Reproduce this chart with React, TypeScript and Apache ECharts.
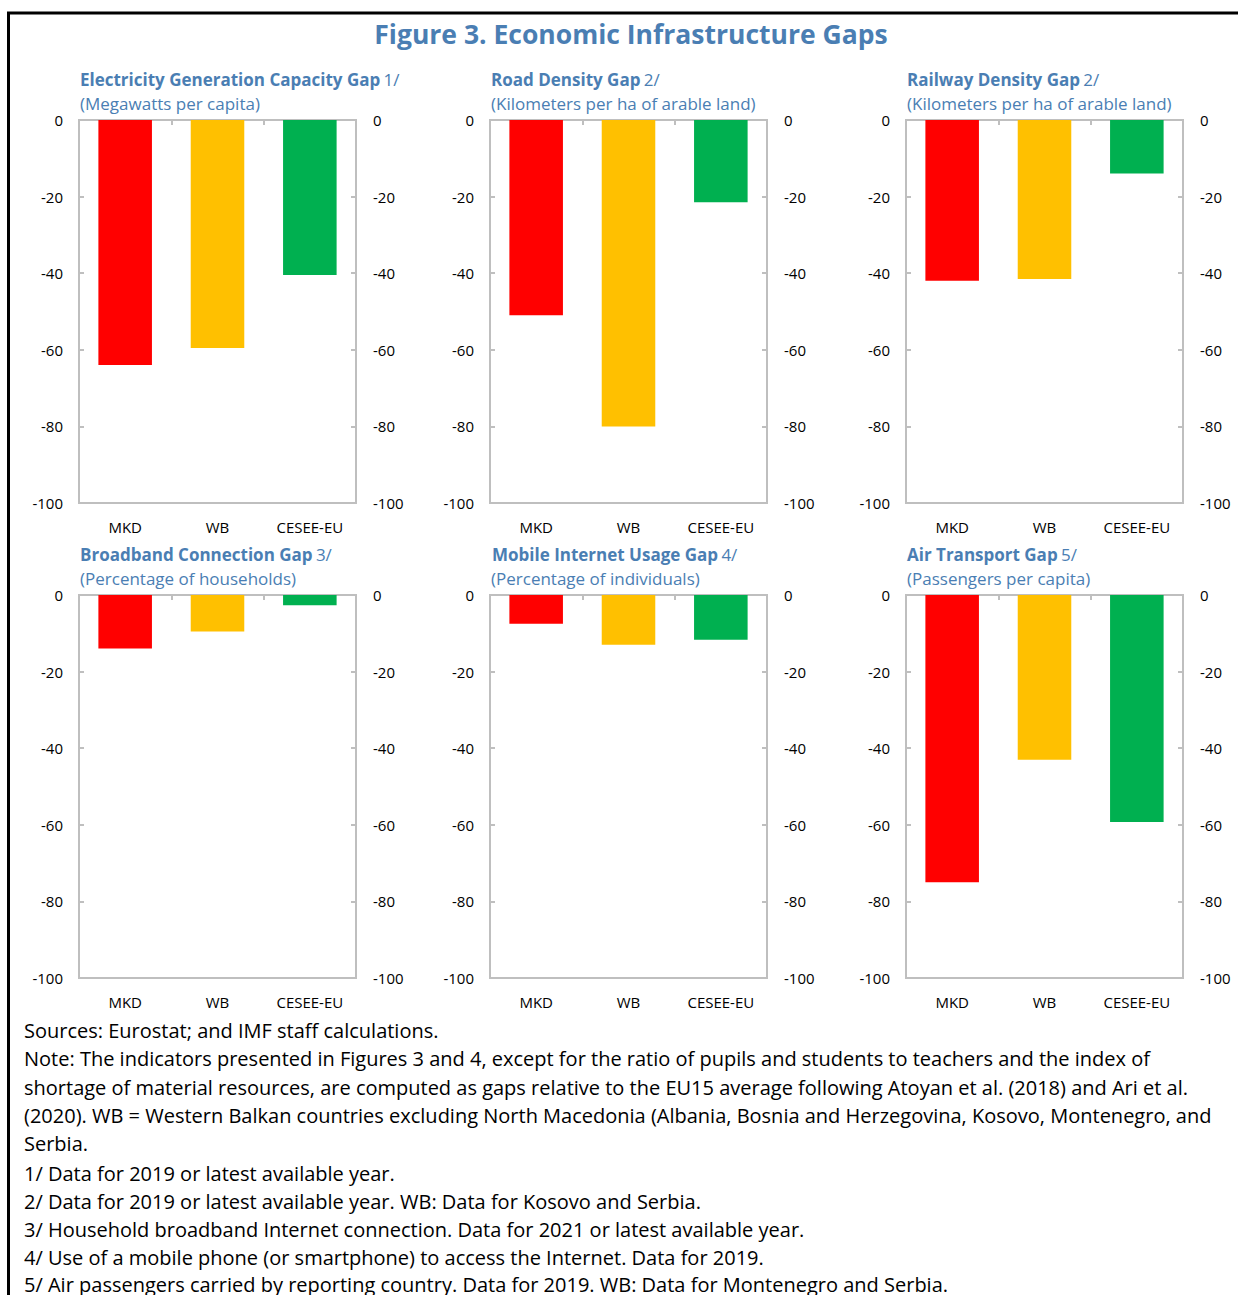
import React, { useEffect, useRef } from "react";
import * as echarts from "echarts";

const categories = ["MKD", "WB", "CESEE-EU"];
const electricity = [-64, -59.5, -40.5];
const road = [-51, -80, -21.5];
const railway = [-42, -41.5, -14];
const broadband = [-14, -9.5, -2.7];
const mobile = [-7.5, -13, -11.7];
const air = [-75, -43, -59.3];
const barColors = ["#ff0000", "#ffc000", "#00b050"];

const panelTitles = [
  "Electricity Generation Capacity Gap",
  "Road Density Gap",
  "Railway Density Gap",
  "Broadband Connection Gap",
  "Mobile Internet Usage Gap",
  "Air Transport Gap",
];
const panelNotes = ["1/", "2/", "2/", "3/", "4/", "5/"];
const panelUnits = [
  "(Megawatts per capita)",
  "(Kilometers per ha of arable land)",
  "(Kilometers per ha of arable land)",
  "(Percentage of households)",
  "(Percentage of individuals)",
  "(Passengers per capita)",
];
const panelData = [electricity, road, railway, broadband, mobile, air];

const mainTitle = "Figure 3. Economic Infrastructure Gaps";
const footnotes = [
  "Sources: Eurostat; and IMF staff calculations.",
  "Note: The indicators presented in Figures 3 and 4, except for the ratio of pupils and students to teachers and the index of",
  "shortage of material resources, are computed as gaps relative to the EU15 average following Atoyan et al. (2018) and Ari et al.",
  "(2020). WB = Western Balkan countries excluding North Macedonia (Albania, Bosnia and Herzegovina, Kosovo, Montenegro, and",
  "Serbia.",
  "1/ Data for 2019 or latest available year.",
  "2/ Data for 2019 or latest available year. WB: Data for Kosovo and Serbia.",
  "3/ Household broadband Internet connection. Data for 2021 or latest available year.",
  "4/ Use of a mobile phone (or smartphone) to access the Internet. Data for 2019.",
  "5/ Air passengers carried by reporting country. Data for 2019. WB: Data for Montenegro and Serbia.",
];

const FONT = "Open Sans";
const BLUE = "#4a7eb3";
const GREY = "#bfbfbf";

export default function App() {
  const ref = useRef<HTMLDivElement>(null);
  useEffect(() => {
    if (!ref.current) return;
    const chart = echarts.init(ref.current, null, { renderer: "svg" });
    const lefts = [79, 490, 906];
    const tops = [120, 595];
    const W = 277;
    const H = 383;
    const grids: any[] = [];
    const xAxes: any[] = [];
    const yAxes: any[] = [];
    const series: any[] = [];
    const graphics: any[] = [];
    for (let i = 0; i < 6; i++) {
      const col = i % 3;
      const row = Math.floor(i / 3);
      grids.push({
        left: lefts[col],
        top: tops[row],
        width: W,
        height: H,
        show: true,
        borderColor: GREY,
        borderWidth: 2,
        backgroundColor: "transparent",
      });
      xAxes.push({
        type: "category",
        gridIndex: i,
        data: categories,
        position: "top",
        axisLine: { show: false },
        axisTick: { show: true, inside: true, length: 5, lineStyle: { color: GREY, width: 2 } },
        axisLabel: { show: false },
      });
      xAxes.push({
        type: "category",
        gridIndex: i,
        data: categories,
        position: "bottom",
        axisLine: { show: false },
        axisTick: { show: false },
        axisLabel: { show: true, margin: 16, color: "#000", fontFamily: FONT, fontSize: 15 },
      });
      const yCommon = {
        type: "value",
        gridIndex: i,
        min: -100,
        max: 0,
        interval: 20,
        splitLine: { show: false },
        axisLine: { show: false },
        axisTick: { show: true, inside: true, length: 5, lineStyle: { color: GREY, width: 2 } },
        axisLabel: { show: true, margin: 16, color: "#000", fontFamily: FONT, fontSize: 15 },
      };
      yAxes.push({ ...yCommon, position: "left" });
      yAxes.push({ ...yCommon, position: "right", axisLabel: { ...yCommon.axisLabel, margin: 17 } });
      series.push({
        type: "bar",
        xAxisIndex: i * 2,
        yAxisIndex: i * 2,
        barCategoryGap: "42%",
        data: panelData[i].map((v, k) => ({ value: v, itemStyle: { color: barColors[k] } })),
      });
      graphics.push({
        type: "text",
        x: lefts[col] + (i === 4 ? 2 : 1),
        y: tops[row] - 41,
        style: {
          text: `{b|${panelTitles[i]}} {r|${panelNotes[i]}}`,
          verticalAlign: "middle",
          rich: {
            b: { fontFamily: FONT, fontWeight: "bold", fontSize: 17, fill: BLUE, color: BLUE },
            r: { fontFamily: FONT, fontSize: 17, fill: BLUE, color: BLUE },
          },
          fill: BLUE,
        },
      });
      graphics.push({
        type: "text",
        x: lefts[col] + 1,
        y: tops[row] - 17,
        style: { text: panelUnits[i], fontFamily: FONT, fontSize: 17, fill: BLUE, verticalAlign: "middle" },
      });
    }
    graphics.push({
      type: "text",
      x: 631,
      y: 34,
      style: {
        text: mainTitle,
        fontFamily: FONT,
        fontWeight: "bold",
        fontSize: 26.5,
        fill: BLUE,
        align: "center",
        verticalAlign: "middle",
      },
    });
    const lineYs = [1030, 1058, 1087, 1115, 1143, 1173, 1201, 1229, 1257, 1284];
    footnotes.forEach((t, k) => {
      graphics.push({
        type: "text",
        x: 24,
        y: lineYs[k],
        style: { text: t, fontFamily: FONT, fontSize: 20, fill: "#000", verticalAlign: "middle", align: "left" },
      });
    });
    graphics.push({ type: "line", shape: { x1: 7, y1: 13, x2: 1238, y2: 13 }, style: { stroke: "#000", lineWidth: 3 } });
    graphics.push({ type: "line", shape: { x1: 8.5, y1: 12, x2: 8.5, y2: 1295 }, style: { stroke: "#000", lineWidth: 3 } });

    chart.setOption({
      animation: false,
      backgroundColor: "#fff",
      grid: grids,
      xAxis: xAxes,
      yAxis: yAxes,
      series: series,
      graphic: graphics,
    });
    return () => chart.dispose();
  }, []);
  return (
    <div
      ref={ref}
      style={{ position: "fixed", left: 0, top: 0, width: 1238, height: 1295, background: "#fff" }}
    />
  );
}
